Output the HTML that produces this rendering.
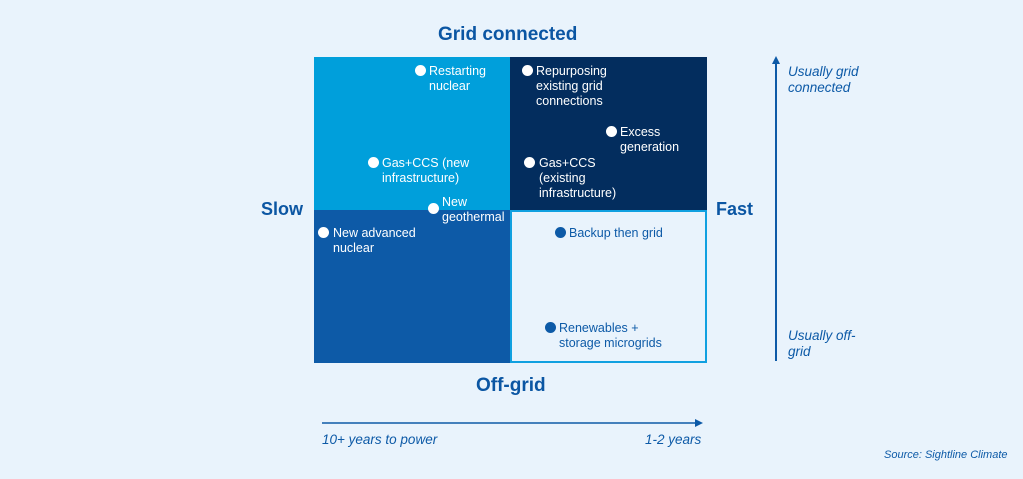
<!DOCTYPE html>
<html><head><meta charset="utf-8"><style>
*{margin:0;padding:0;box-sizing:border-box}
body{width:1023px;height:479px;background:#e9f3fc;font-family:"Liberation Sans",sans-serif;position:relative;overflow:hidden}
.a{position:absolute}
.q{position:absolute}
.lb{position:absolute;font-size:12.5px;line-height:15px;color:#fff;white-space:nowrap}
.lb.d{color:#0d5aa7}
.dot{position:absolute;width:11px;height:11px;border-radius:50%;background:#fff}
.dot.d{background:#0d5aa7}
.h{position:absolute;font-weight:bold;color:#0b56a3;font-size:18px}
.it{position:absolute;font-style:italic;color:#0d5aa7;font-size:13.5px;line-height:16px}
</style></head><body>
<div class="h" style="left:438px;top:24px;font-size:19px">Grid connected</div>
<div class="h" style="left:476px;top:375px;font-size:19px">Off-grid</div>
<div class="h" style="left:261px;top:199px">Slow</div>
<div class="h" style="left:716px;top:199px">Fast</div>

<div class="q" style="left:314px;top:57px;width:197px;height:154px;background:#009fdb"></div>
<div class="q" style="left:510px;top:57px;width:197px;height:154px;background:#032d5e"></div>
<div class="q" style="left:314px;top:210px;width:197px;height:153px;background:#0d5aa7"></div>
<div class="q" style="left:510px;top:210px;width:197px;height:153px;background:#e9f3fc;border:2px solid #10a0e0"></div>

<div class="dot" style="left:415px;top:65px"></div><div class="lb" style="left:429px;top:64px">Restarting<br>nuclear</div>
<div class="dot" style="left:522px;top:65px"></div><div class="lb" style="left:536px;top:64px">Repurposing<br>existing grid<br>connections</div>
<div class="dot" style="left:606px;top:126px"></div><div class="lb" style="left:620px;top:125px">Excess<br>generation</div>
<div class="dot" style="left:368px;top:157px"></div><div class="lb" style="left:382px;top:156px">Gas+CCS (new<br>infrastructure)</div>
<div class="dot" style="left:524px;top:157px"></div><div class="lb" style="left:539px;top:156px">Gas+CCS<br>(existing<br>infrastructure)</div>
<div class="dot" style="left:428px;top:203px"></div><div class="lb" style="left:442px;top:195px">New<br>geothermal</div>
<div class="dot" style="left:318px;top:227px"></div><div class="lb" style="left:333px;top:226px">New advanced<br>nuclear</div>
<div class="dot d" style="left:555px;top:227px"></div><div class="lb d" style="left:569px;top:226px">Backup then grid</div>
<div class="dot d" style="left:545px;top:322px"></div><div class="lb d" style="left:559px;top:321px">Renewables +<br>storage microgrids</div>

<svg class="a" style="left:0;top:0" width="1023" height="479">
<line x1="776" y1="62" x2="776" y2="361" stroke="#0d5aa7" stroke-width="2"/>
<polygon points="776,56 772,64 780,64" fill="#0d5aa7"/>
<line x1="322" y1="423" x2="696" y2="423" stroke="#0d5aa7" stroke-width="1.5"/>
<polygon points="703,423 695,419 695,427" fill="#0d5aa7"/>
</svg>
<div class="it" style="left:788px;top:64px">Usually grid<br>connected</div>
<div class="it" style="left:788px;top:328px">Usually off-<br>grid</div>
<div class="it" style="left:322px;top:432px">10+ years to power</div>
<div class="it" style="left:645px;top:432px">1-2 years</div>
<div class="it" style="left:884px;top:447px;font-size:11px">Source: Sightline Climate</div>
</body></html>
